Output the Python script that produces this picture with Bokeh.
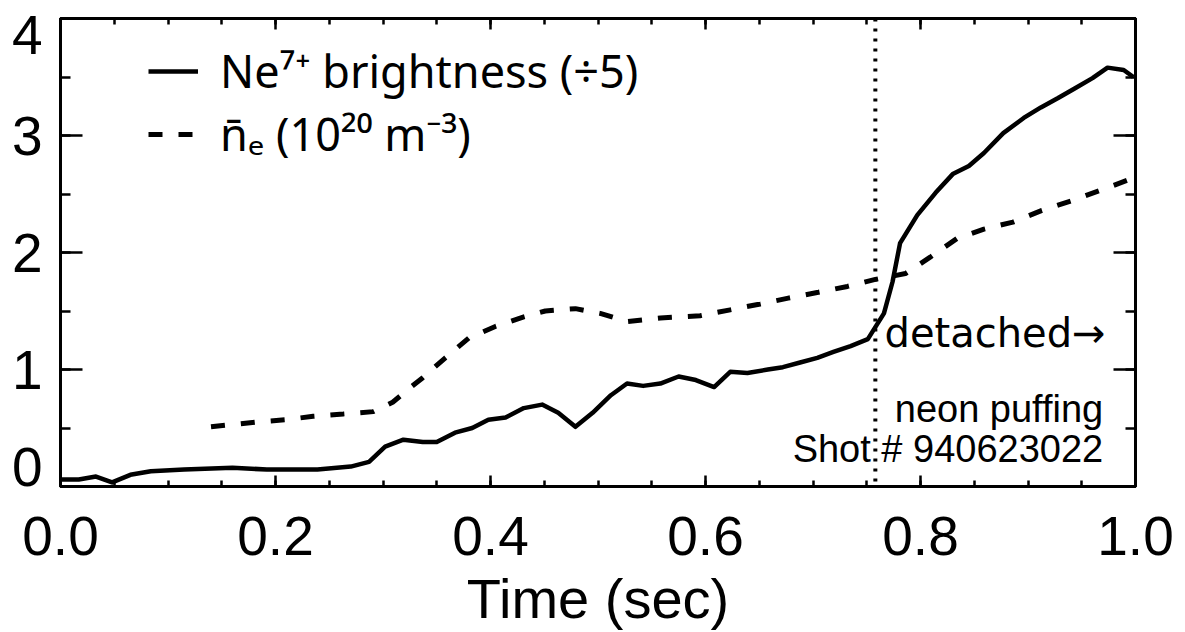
from bokeh.plotting import figure
from bokeh.models import (Range1d, FixedTicker, LinearAxis, Legend, LegendItem,
                          Label, Span, ColumnDataSource, CustomLabelingPolicy)
from bokeh.embed import file_html
from bokeh.resources import INLINE
import numpy as np

# ---- data ----
ne_time = [0.000, 0.017, 0.033, 0.048, 0.065, 0.084, 0.115, 0.160, 0.192, 0.239,
           0.270, 0.287, 0.302, 0.319, 0.337, 0.350, 0.367, 0.383, 0.398, 0.414,
           0.431, 0.448, 0.463, 0.479, 0.495, 0.512, 0.527, 0.542, 0.558, 0.575,
           0.591, 0.608, 0.623, 0.639, 0.658, 0.672, 0.688, 0.704, 0.719, 0.735,
           0.751, 0.766, 0.774, 0.781, 0.797, 0.814, 0.830, 0.845, 0.859, 0.877,
           0.896, 0.912, 0.928, 0.943, 0.960, 0.974, 0.989, 0.998]
ne_bright = [0.06, 0.06, 0.085, 0.035, 0.10, 0.13, 0.145, 0.16, 0.145, 0.145,
             0.17, 0.21, 0.34, 0.40, 0.38, 0.38, 0.46, 0.50, 0.57, 0.59,
             0.67, 0.70, 0.63, 0.51, 0.63, 0.78, 0.88, 0.86, 0.88, 0.94,
             0.91, 0.85, 0.98, 0.97, 1.00, 1.02, 1.06, 1.10, 1.15, 1.20,
             1.26, 1.48, 1.75, 2.08, 2.32, 2.51, 2.67, 2.74, 2.85, 3.02,
             3.15, 3.24, 3.32, 3.40, 3.49, 3.58, 3.56, 3.50]

dens_time = [0.140, 0.181, 0.209, 0.235, 0.263, 0.291, 0.309, 0.326, 0.337, 0.358,
             0.380, 0.405, 0.431, 0.451, 0.479, 0.502, 0.527, 0.558, 0.595, 0.623,
             0.651, 0.677, 0.705, 0.732, 0.758, 0.786, 0.809, 0.834, 0.859, 0.886,
             0.913, 0.940, 0.967, 0.993]
dens_val = [0.51, 0.55, 0.57, 0.60, 0.62, 0.64, 0.72, 0.85, 0.93, 1.10,
            1.27, 1.37, 1.45, 1.50, 1.52, 1.48, 1.41, 1.44, 1.46, 1.51,
            1.56, 1.61, 1.66, 1.71, 1.77, 1.82, 1.96, 2.12, 2.20, 2.26,
            2.36, 2.44, 2.53, 2.62]

detach_time = 0.758

x_tick_vals = [0.0, 0.2, 0.4, 0.6, 0.8, 1.0]
x_tick_labels = ["0.0", "0.2", "0.4", "0.6", "0.8", "1.0"]
y_tick_vals = [0, 1, 2, 3, 4]
y_tick_labels = ["0", "1", "2", "3", "4"]

legend_labels = ["Ne\u2077\u207a brightness (\u00f75)",
                 "n\u0304\u2091 (10\u00b2\u2070 m\u207b\u00b3)"]

FONT = "Liberation Sans"

p = figure(width=1185, height=632, output_backend="svg", toolbar_location=None,
           x_range=Range1d(0, 1), y_range=Range1d(0, 4),
           min_border_left=60, min_border_right=50, min_border_top=18,
           min_border_bottom=146, x_axis_label="Time (sec)")
p.grid.visible = False
p.outline_line_color = "black"
p.outline_line_width = 3
p.background_fill_color = "white"
p.border_fill_color = "white"

x_minor = list(np.round(np.arange(0, 1.0001, 0.05), 2))
y_minor = list(np.arange(0, 4.0001, 0.5))

no_labels = CustomLabelingPolicy(code="return []")


def style_axis(ax, ticker, major_in, minor_in, labels=True):
    ax.ticker = ticker
    ax.axis_line_width = 3
    ax.major_tick_in = major_in
    ax.major_tick_out = 0
    ax.minor_tick_in = minor_in
    ax.minor_tick_out = 0
    ax.major_tick_line_width = 2.5
    ax.minor_tick_line_width = 2.5
    ax.major_label_text_font = FONT
    ax.major_label_text_color = "black"
    if not labels:
        ax.major_label_text_font_size = "1px"
        ax.major_label_standoff = 0
        ax.major_label_policy = no_labels


xa = p.xaxis[0]
style_axis(xa, FixedTicker(ticks=x_tick_vals, minor_ticks=x_minor), 11, 6)
xa.major_label_text_font_size = "55px"
xa.major_label_standoff = 30
xa.major_label_overrides = {v: s for v, s in zip(x_tick_vals, x_tick_labels)}
xa.axis_label_text_font = FONT
xa.axis_label_text_font_size = "56px"
xa.axis_label_text_font_style = "normal"
xa.axis_label_text_color = "black"
xa.axis_label_standoff = 9

# left: tick marks only (nearest the frame)
ya = p.yaxis[0]
style_axis(ya, FixedTicker(ticks=y_tick_vals, minor_ticks=y_minor), 22, 10, labels=False)

# left: the tick labels, end labels nudged inwards as in the reference
y_label_pos = list(y_tick_vals)
y_label_pos[0] = y_tick_vals[0] + 0.165
y_label_pos[-1] = y_tick_vals[-1] - 0.14
ylab = LinearAxis(ticker=FixedTicker(ticks=y_label_pos, minor_ticks=[]))
ylab.axis_line_color = None
ylab.major_tick_line_color = None
ylab.minor_tick_line_color = None
ylab.major_tick_in = 0
ylab.major_tick_out = 0
ylab.major_label_text_font = FONT
ylab.major_label_text_font_size = "55px"
ylab.major_label_text_color = "black"
ylab.major_label_standoff = 14
ylab.major_label_overrides = {v: s for v, s in zip(y_label_pos, y_tick_labels)}
p.add_layout(ylab, "left")

top = LinearAxis()
style_axis(top, FixedTicker(ticks=x_tick_vals, minor_ticks=x_minor), 11, 6, labels=False)
p.add_layout(top, "above")
right = LinearAxis()
style_axis(right, FixedTicker(ticks=y_tick_vals, minor_ticks=y_minor), 22, 10, labels=False)
p.add_layout(right, "right")

src_ne = ColumnDataSource(dict(t=ne_time, v=ne_bright))
src_d = ColumnDataSource(dict(t=dens_time, v=dens_val))
r1 = p.line("t", "v", source=src_ne, line_color="black", line_width=4.5,
            line_join="round")
r2 = p.line("t", "v", source=src_d, line_color="black", line_width=5,
            line_dash="14 16")

p.add_layout(Span(location=detach_time, dimension="height", line_color="black",
                  line_width=4, line_dash="3 7"))

leg = Legend(items=[LegendItem(label=legend_labels[0], renderers=[r1]),
                    LegendItem(label=legend_labels[1], renderers=[r2])],
             location=(88, 322))
leg.label_text_font = "Noto Sans"
leg.label_text_font_size = "45px"
leg.label_text_color = "black"
leg.label_standoff = 22
leg.glyph_width = 50
leg.glyph_height = 40
leg.spacing = 2
leg.padding = 0
leg.margin = 0
leg.border_line_alpha = 0
leg.background_fill_alpha = 0
p.add_layout(leg)

p.add_layout(Label(x=detach_time + 0.0085, y=1.31, text="detached\u2192",
                   text_align="left", text_baseline="alphabetic",
                   text_font="DejaVu Sans", text_font_size="40px", text_color="black"))
p.add_layout(Label(x=0.970, y=0.66, text="neon puffing",
                   text_align="right", text_baseline="alphabetic",
                   text_font=FONT, text_font_size="38px", text_color="black"))
p.add_layout(Label(x=0.970, y=0.32, text="Shot # 940623022",
                   text_align="right", text_baseline="alphabetic",
                   text_font=FONT, text_font_size="38px", text_color="black"))

open("out.html", "w").write(file_html(p, INLINE))
